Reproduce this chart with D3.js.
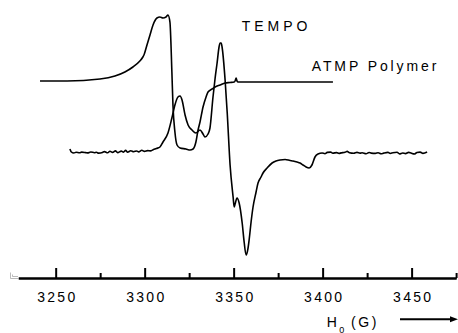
<!DOCTYPE html>
<html>
<head>
<meta charset="utf-8">
<script src="https://cdn.jsdelivr.net/npm/d3@7"></script>
<style>
  html, body { margin: 0; padding: 0; background: #fff; }
  svg { display: block; font-family: "Liberation Sans", Arial, sans-serif; }
</style>
</head>
<body>
<svg id="chart" width="458" height="333"></svg>
<script>
// ---- data (field in gauss, signal in arbitrary units) ----
const atmpField = [3241.2, 3256.4, 3274.9, 3283.3, 3288.9, 3293.4, 3297.3, 3299.0, 3299.6, 3301.3,
  3303.0, 3304.7, 3306.9, 3308.6, 3310.3, 3312.0, 3313.1, 3314.2, 3315.3, 3315.9,
  3317.0, 3318.2, 3319.9, 3323.2, 3325.5, 3327.2, 3328.8, 3330.0, 3331.1, 3332.8,
  3334.5, 3335.6, 3337.9, 3339.6, 3342.4, 3345.2, 3348.0, 3350.3, 3350.8, 3351.4,
  3351.9, 3352.5, 3356.4, 3405.8];
const atmpSignal = [197, 197, 199, 202, 206, 211, 217, 221, 223, 233,
  243, 253, 260, 261, 260, 261, 263, 256, 206, 173,
  146, 133, 130, 129, 128, 129, 136, 148, 156, 171,
  181, 186, 189, 191, 193, 195, 195.5, 196, 197, 200,
  197, 196, 196, 196];

const tempoField = [3258.0, 3258.8, 3260.2, 3261.5, 3263.4, 3264.6, 3266.9, 3268.0, 3269.7, 3271.8,
  3272.9, 3274.1, 3276.3, 3277.4, 3279.2, 3280.5, 3282.0, 3283.6, 3284.8, 3286.9,
  3288.1, 3289.3, 3290.4, 3292.2, 3293.8, 3295.5, 3296.6, 3298.4, 3299.9, 3301.7,
  3303.2, 3305.0, 3306.6, 3308.6, 3310.3, 3313.1, 3315.3,
  3317.0, 3318.7, 3319.9, 3321.0, 3322.7, 3324.4, 3326.6, 3328.8, 3331.1, 3332.8,
  3333.9, 3335.6, 3336.7, 3338.4, 3339.6, 3340.7, 3341.8, 3342.4, 3343.0, 3343.5,
  3345.2, 3346.4, 3348.0, 3349.7, 3350.3, 3350.8, 3351.9, 3353.1, 3354.8, 3355.9,
  3357.0, 3358.1, 3358.7, 3359.8, 3360.9, 3362.6, 3363.7, 3365.4, 3366.5, 3368.8,
  3371.6, 3373.8, 3376.1, 3378.9, 3381.7, 3383.4, 3385.6, 3387.3, 3389.0, 3390.7,
  3392.4, 3394.0, 3395.7, 3397.4, 3399.7, 3401.3, 3402.6, 3404.5, 3405.7, 3407.9,
  3409.2, 3410.4, 3412.6, 3413.8, 3415.1, 3417.5, 3419.3, 3421.0, 3422.2, 3424.4,
  3426.1, 3427.3, 3429.6, 3431.2, 3432.8, 3434.3, 3436.7, 3438.0, 3439.4, 3441.8,
  3443.2, 3445.0, 3446.6, 3448.3, 3449.7, 3451.5, 3453.0, 3454.8, 3456.4, 3458.7];
const tempoSignal = [129, 126, 125, 125.8, 125.2, 125.9, 125.4, 125.1, 126.0, 125.3,
  125.7, 124.9, 125.6, 126.4, 125.2, 126.8, 125.6, 127.1, 125.4, 126.9,
  125.9, 127.6, 125.8, 127.2, 126.3, 127.0, 126.1, 127.8, 126.6, 127.4,
  127.1, 128.4, 129.5, 131, 136, 145, 160,
  173, 181, 182, 178, 163, 153, 148, 145, 148, 144,
  141, 144, 150, 181, 200, 215, 231, 235, 235, 231,
  198, 165, 113, 81, 71, 74, 80, 75, 55, 36,
  23, 30, 38, 56, 71, 86, 95, 101, 105, 110,
  115, 117, 118, 118.5, 117.5, 117, 116, 115, 113, 111,
  110, 113, 121, 124, 125, 124.3, 125.6, 125.9, 124.8, 125.4,
  124.6, 125.1, 125.8, 126.6, 125.2, 124.7, 125.6, 124.9, 125.3, 124.2,
  125.5, 124.9, 124.6, 125.3, 124.2, 124.9, 125.6, 124.5, 125.2, 125.8,
  124.1, 125.0, 124.4, 125.6, 124.9, 124.0, 125.4, 125.9, 124.6, 126];

const majorTicks = [3250, 3300, 3350, 3400, 3450];
const minorTicks = [3275, 3325, 3375, 3425, 3475];
const seriesLabels = ["TEMPO", "ATMP Polymer"];
const axisTitle = { main: "H", sub: "0", unit: "(G)" };

// ---- drawing ----
const svg = d3.select("#chart");
const x = d3.scaleLinear().domain([3229, 3475]).range([18.3, 456.1]);
const y = d3.scaleLinear().domain([0, 270]).range([278, 8]);
const axisY = 278;

const line = d3.line()
  .x(d => x(d[0]))
  .y(d => y(d[1]))
  .curve(d3.curveMonotoneX);

const atmp = atmpField.map((g, i) => [g, atmpSignal[i]]);
const tempo = tempoField.map((g, i) => [g, tempoSignal[i]]);

svg.append("path").datum(atmp).attr("d", line)
  .attr("fill", "none").attr("stroke", "#000").attr("stroke-width", 1.6)
  .attr("stroke-linejoin", "round");
svg.append("path").datum(tempo).attr("d", line)
  .attr("fill", "none").attr("stroke", "#000").attr("stroke-width", 1.6)
  .attr("stroke-linejoin", "round");

// minor axis (no labels)
const gMinor = svg.append("g").attr("transform", `translate(0,${axisY})`)
  .call(d3.axisBottom(x).tickValues(minorTicks).tickSizeInner(-5).tickSizeOuter(0).tickFormat(""));
// major axis
const gMajor = svg.append("g").attr("transform", `translate(0,${axisY})`)
  .call(d3.axisBottom(x).tickValues(majorTicks).tickSizeInner(-10).tickSizeOuter(0)
    .tickPadding(14).tickFormat(d3.format("d")));

[gMinor, gMajor].forEach(g => {
  g.select(".domain").attr("stroke", "#000").attr("stroke-width", 2);
  g.selectAll(".tick line").attr("stroke", "#000").attr("stroke-width", 2);
});
gMajor.selectAll(".tick text")
  .attr("font-size", 14).attr("fill", "#000")
  .attr("font-family", "'Liberation Sans', Arial, sans-serif")
  .style("letter-spacing", "2.3px")
  .attr("dx", "1.15px");

// small corner glyph at left end of axis
svg.append("path").attr("d", "M10.5,272.5 V278.5 H18 M12.5,274.5 V276.5 H18")
  .attr("fill", "none").attr("stroke", "#aaa").attr("stroke-width", 0.8);

// series labels
svg.append("text").attr("x", 241.7).attr("y", 30.5)
  .attr("font-size", 14).style("letter-spacing", "4px").text(seriesLabels[0]);
svg.append("text").attr("x", 311.7).attr("y", 70.5)
  .attr("font-size", 14).style("letter-spacing", "2.9px").text(seriesLabels[1]);

// axis title
svg.append("text").attr("x", 326.7).attr("y", 326.5).attr("font-size", 14).text(axisTitle.main);
svg.append("text").attr("x", 339.3).attr("y", 332.5).attr("font-size", 9).text(axisTitle.sub);
svg.append("text").attr("x", 351).attr("y", 326.5).attr("font-size", 14)
  .style("letter-spacing", "2.6px").text(axisTitle.unit);

// arrow
svg.append("line").attr("x1", 400).attr("x2", 452).attr("y1", 319.3).attr("y2", 319.3)
  .attr("stroke", "#000").attr("stroke-width", 2);
svg.append("path").attr("d", "M450,316.3 L458,319.3 L450,322.3 Z").attr("fill", "#000");
</script>
</body>
</html>
